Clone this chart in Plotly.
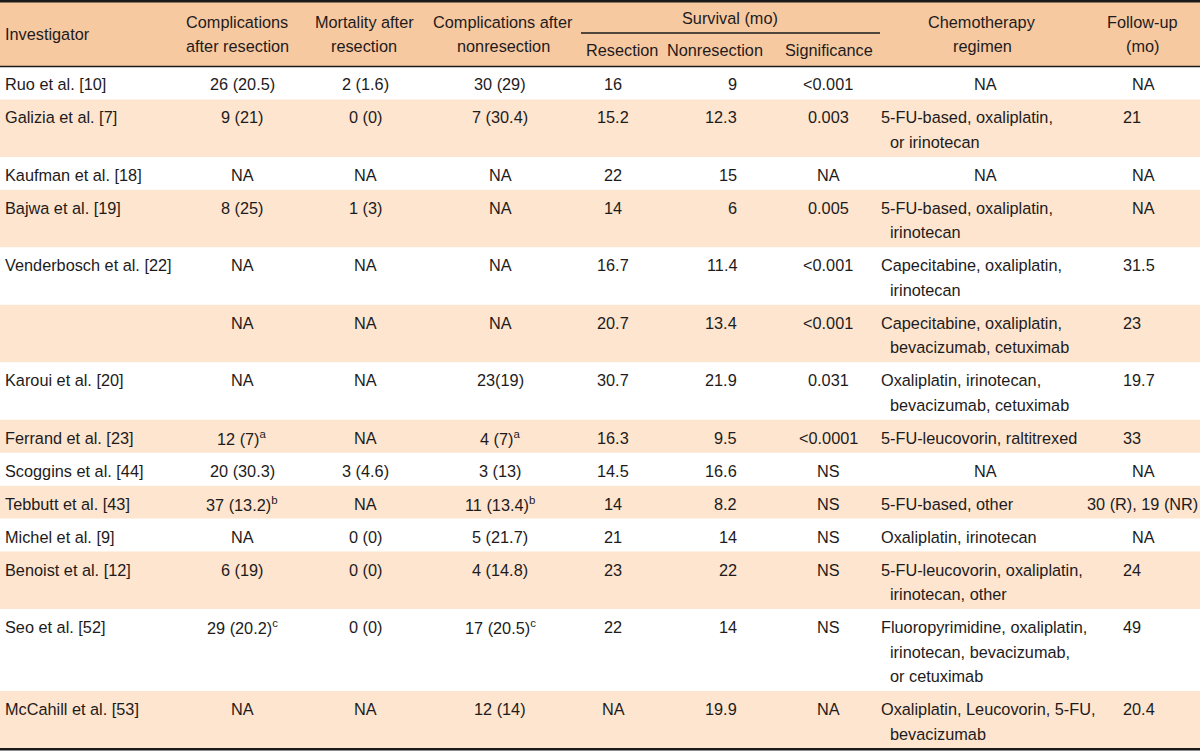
import plotly.graph_objects as go

# ---------------- data ----------------
header_investigator = "Investigator"
header_comp_res = ["Complications", "after resection"]
header_mort_res = ["Mortality after", "resection"]
header_comp_nonres = ["Complications after", "nonresection"]
header_survival = "Survival (mo)"
header_surv_sub = ["Resection", "Nonresection", "Significance"]
header_chemo = ["Chemotherapy", "regimen"]
header_followup = ["Follow-up", "(mo)"]

investigators = ["Ruo et al. [10]", "Galizia et al. [7]", "Kaufman et al. [18]", "Bajwa et al. [19]",
                 "Venderbosch et al. [22]", "", "Karoui et al. [20]", "Ferrand et al. [23]",
                 "Scoggins et al. [44]", "Tebbutt et al. [43]", "Michel et al. [9]",
                 "Benoist et al. [12]", "Seo et al. [52]", "McCahill et al. [53]"]
comp_resection = ["26 (20.5)", "9 (21)", "NA", "8 (25)", "NA", "NA", "NA", "12 (7)<sup>a</sup>",
                  "20 (30.3)", "37 (13.2)<sup>b</sup>", "NA", "6 (19)", "29 (20.2)<sup>c</sup>", "NA"]
mort_resection = ["2 (1.6)", "0 (0)", "NA", "1 (3)", "NA", "NA", "NA", "NA", "3 (4.6)", "NA",
                  "0 (0)", "0 (0)", "0 (0)", "NA"]
comp_nonresection = ["30 (29)", "7 (30.4)", "NA", "NA", "NA", "NA", "23(19)", "4 (7)<sup>a</sup>",
                     "3 (13)", "11 (13.4)<sup>b</sup>", "5 (21.7)", "4 (14.8)", "17 (20.5)<sup>c</sup>",
                     "12 (14)"]
surv_resection = ["16", "15.2", "22", "14", "16.7", "20.7", "30.7", "16.3", "14.5", "14", "21", "23",
                  "22", "NA"]
surv_nonresection = ["9", "12.3", "15", "6", "11.4", "13.4", "21.9", "9.5", "16.6", "8.2", "14", "22",
                     "14", "19.9"]
significance = ["<0.001", "0.003", "NA", "0.005", "<0.001", "<0.001", "0.031", "<0.0001", "NS", "NS",
                "NS", "NS", "NS", "NA"]
chemo_regimen = [["NA"],
                 ["5-FU-based, oxaliplatin,", "or irinotecan"],
                 ["NA"],
                 ["5-FU-based, oxaliplatin,", "irinotecan"],
                 ["Capecitabine, oxaliplatin,", "irinotecan"],
                 ["Capecitabine, oxaliplatin,", "bevacizumab, cetuximab"],
                 ["Oxaliplatin, irinotecan,", "bevacizumab, cetuximab"],
                 ["5-FU-leucovorin, raltitrexed"],
                 ["NA"],
                 ["5-FU-based, other"],
                 ["Oxaliplatin, irinotecan"],
                 ["5-FU-leucovorin, oxaliplatin,", "irinotecan, other"],
                 ["Fluoropyrimidine, oxaliplatin,", "irinotecan, bevacizumab,", "or cetuximab"],
                 ["Oxaliplatin, Leucovorin, 5-FU,", "bevacizumab"]]
followup = ["NA", "21", "NA", "NA", "31.5", "23", "19.7", "33", "NA", "30 (R), 19 (NR)", "NA", "24",
            "49", "20.4"]

# ---------------- style / layout ----------------
W, H = 1200, 751
FONT = "Liberation Sans, Arial, Helvetica, sans-serif"
FS = 16.3
TXT = "#1e1b1c"
HEAD_BG = "#f7c9a1"
STRIPE_BG = "#fde5cf"

HEAD_TOP, HEAD_BOT = 2, 66.5
BODY_BOT = 748.5
BASE_H = 32.9        # single-line row height
LINE_STEP = 24.5     # extra height per extra line
TEXT_SHIFT = 1.5

X_INV = 4
X_C1, X_C2, X_C3 = 242, 365, 500
X_RES = 613
X_NONRES_R = 738
X_SIG = 828
X_CHEMO_L, X_CHEMO_IND, X_CHEMO_C = 880, 889, 985
X_FU_L, X_FU_C, X_FU_R = 1122, 1143, 1199
SURV_LINE = (581, 880)

fig = go.Figure()


def esc(s):
    return s.replace("<0", "&lt;0")


def txt(x, y, s, anchor="center", size=FS):
    fig.add_annotation(x=x, y=y, xref="x", yref="y", text=s, showarrow=False,
                       xanchor=anchor, yanchor="middle", borderpad=0,
                       font=dict(family=FONT, size=size, color=TXT))


# row geometry
n_rows = len(investigators)
n_lines = [len(chemo_regimen[i]) for i in range(n_rows)]
row_tops = []
y = HEAD_BOT
for i in range(n_rows):
    row_tops.append(y)
    y += BASE_H + (n_lines[i] - 1) * LINE_STEP
scale = (BODY_BOT - HEAD_BOT) / (y - HEAD_BOT)
row_tops = [HEAD_BOT + (t - HEAD_BOT) * scale for t in row_tops]
row_bots = row_tops[1:] + [BODY_BOT]

shapes = []
# header background
shapes.append(dict(type="rect", x0=0, x1=W, y0=HEAD_TOP, y1=HEAD_BOT, fillcolor=HEAD_BG,
                   line=dict(width=0), layer="below"))
# striped rows
for i in range(n_rows):
    if i % 2 == 1:
        shapes.append(dict(type="rect", x0=0, x1=W, y0=row_tops[i], y1=row_bots[i],
                           fillcolor=STRIPE_BG, line=dict(width=0), layer="below"))
# rules
shapes.append(dict(type="line", x0=0, x1=W, y0=1.2, y1=1.2, line=dict(color="#1a1a1a", width=2.4)))
shapes.append(dict(type="line", x0=0, x1=W, y0=HEAD_BOT, y1=HEAD_BOT, line=dict(color="#1a1a1a", width=1.3)))
shapes.append(dict(type="line", x0=0, x1=W, y0=BODY_BOT + 0.8, y1=BODY_BOT + 0.8,
                   line=dict(color="#1a1a1a", width=2.4)))
shapes.append(dict(type="line", x0=SURV_LINE[0], x1=SURV_LINE[1], y0=33, y1=33,
                   line=dict(color="#1a1a1a", width=1.3)))
fig.update_layout(shapes=shapes)

# header text
hmid = (HEAD_TOP + HEAD_BOT) / 2
h1, h2 = hmid - 12, hmid + 11.5
txt(X_INV, hmid, header_investigator, "left")
for xc, lines in [(237, header_comp_res), (364, header_mort_res), (503, header_comp_nonres),
                  (982, header_chemo), (1142, header_followup)]:
    txt(xc, h1, lines[0])
    txt(xc, h2, lines[1])
txt(730, 18, header_survival)
for xc, s in zip([622, 715, 829], header_surv_sub):
    txt(xc, 50, s)

# body text
for i in range(n_rows):
    y0 = row_tops[i] + BASE_H * scale / 2 + TEXT_SHIFT
    if investigators[i]:
        txt(X_INV, y0, investigators[i], "left")
    txt(X_C1, y0, comp_resection[i])
    txt(X_C2, y0, mort_resection[i])
    txt(X_C3, y0, comp_nonresection[i])
    txt(X_RES, y0, surv_resection[i])
    txt(X_NONRES_R, y0, surv_nonresection[i], "right")
    txt(X_SIG, y0, esc(significance[i]))
    lines = chemo_regimen[i]
    if lines == ["NA"]:
        txt(X_CHEMO_C, y0, "NA")
    else:
        for k, ln in enumerate(lines):
            txt(X_CHEMO_L if k == 0 else X_CHEMO_IND, y0 + k * LINE_STEP * scale, ln, "left")
    fu = followup[i]
    if fu == "NA":
        txt(X_FU_C, y0, fu)
    elif len(fu) > 6:
        txt(X_FU_R, y0, fu, "right")
    else:
        txt(X_FU_L, y0, fu, "left")

fig.update_layout(
    width=W, height=H, margin=dict(l=0, r=0, t=0, b=0),
    paper_bgcolor="white", plot_bgcolor="white",
    xaxis=dict(range=[0, W], visible=False, fixedrange=True),
    yaxis=dict(range=[H, 0], visible=False, fixedrange=True),
    showlegend=False,
)
fig.write_html("out.html", config=dict(displayModeBar=False),
               post_script="document.body.style.margin='0';document.body.style.overflow='hidden';")
